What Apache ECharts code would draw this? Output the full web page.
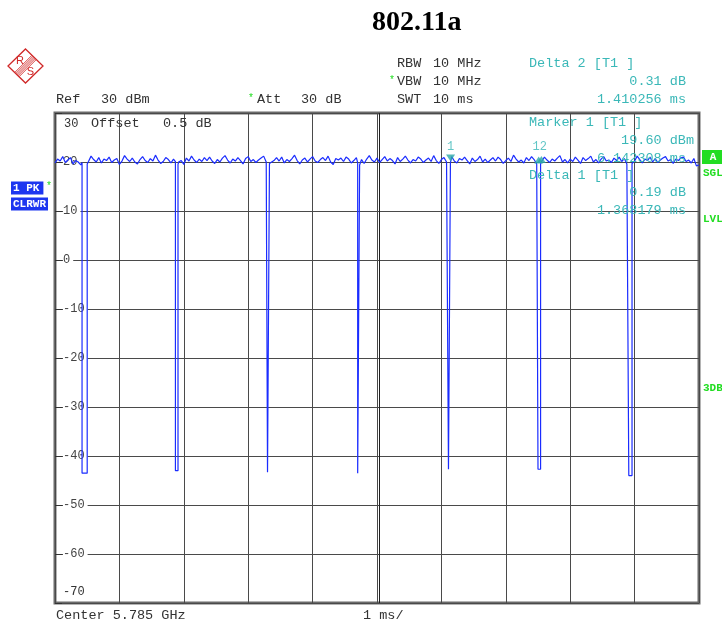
<!DOCTYPE html>
<html>
<head>
<meta charset="utf-8">
<script src="https://cdn.jsdelivr.net/npm/echarts/dist/echarts.min.js"></script>
<style>html,body{margin:0;padding:0;background:#fff;}#c{width:722px;height:626px;}</style>
</head>
<body>
<div id="c"></div>
<script>
// ---- data ----
const sweepMs = 10;            // SWT 10 ms, 1 ms/div
const noiseStep = 0.04;        // ms between noise samples
const noise = [
19.8,20.6,20.2,21.1,19.9,20.4,20.9,19.6,20.3,20.0,
19.4,19.7,20.8,20.1,21.2,20.5,20.0,20.9,19.8,20.6,
20.3,21.0,19.9,20.4,20.7,19.5,20.2,21.3,20.6,20.1,
20.8,20.0,19.6,20.5,21.1,20.3,19.9,20.7,20.2,21.4,
20.4,19.7,20.1,20.9,20.5,19.8,20.6,21.0,20.0,20.3,
19.5,20.8,20.2,21.2,20.4,19.9,20.6,20.1,20.9,20.3,
21.0,20.2,19.7,20.5,20.0,20.8,21.3,20.4,19.8,20.6,
20.2,20.9,20.3,19.6,20.7,21.1,20.1,20.5,19.9,20.4,
20.8,21.2,20.0,20.6,19.7,20.3,20.9,20.2,21.0,19.8,
20.5,20.1,20.7,21.4,20.3,19.6,20.4,20.8,20.0,20.6,
21.1,20.2,19.9,20.5,20.9,20.3,21.2,20.0,19.5,20.7,
20.4,20.8,20.1,21.0,20.6,19.8,20.3,20.9,20.2,20.5,
19.7,20.6,21.3,20.4,20.0,20.8,19.9,20.5,21.1,20.2,
20.7,20.3,19.6,20.9,20.1,20.6,21.2,20.4,19.8,20.5,
20.2,21.0,20.6,19.9,20.4,20.8,20.1,21.3,20.3,19.7,
20.5,20.9,20.0,20.6,21.1,20.2,19.8,20.7,20.4,21.0,
20.3,19.6,20.8,20.1,20.5,21.2,20.0,20.6,19.9,20.4,
20.9,20.2,21.0,20.5,19.7,20.3,20.8,20.1,21.4,20.6,
20.0,20.4,19.8,20.9,20.3,21.1,20.5,19.6,20.7,20.2,
21.0,20.4,19.9,20.6,20.2,20.8,21.3,20.0,20.5,19.8,
20.6,20.1,21.0,20.4,19.7,20.9,20.3,20.7,21.2,20.0,
20.5,19.8,20.6,21.1,20.2,20.4,19.9,20.8,20.3,21.0,
20.1,20.7,19.6,20.4,20.9,20.2,21.2,20.5,19.8,20.6,
20.3,21.0,20.0,20.7,19.9,20.4,20.8,21.1,20.2,20.5,
19.7,20.6,20.3,20.9,21.0,20.1,20.4,19.8,20.7,19.2,
19.4
];
const dipStart = [0.42, 1.87, 3.30, 4.70, 6.11, 7.50, 8.91];
const dipEnd   = [0.50, 1.91, 3.33, 4.73, 6.14, 7.54, 8.96];
const dipFloor = [-43.5, -43.0, -43.3, -43.5, -42.7, -42.7, -44.0];
const dipTopL  = [19.9, 20.1, 20.0, 19.8, 20.2, 19.9, 20.0];
const dipTopR  = [19.6, 19.5, 19.7, 19.4, 19.8, 19.6, 19.7];

const marker1 = [6.142308, 19.60];
const delta1 = [6.142308 + 1.368179, 19.60 + 0.19];
const delta2 = [6.142308 + 1.410256, 19.60 + 0.31];

const yTicks = [-70, -60, -50, -40, -30, -20, -10, 0, 10, 20, 30];

// ---- build trace ----
let trace = noise.map((v, i) => [+(i * noiseStep).toFixed(3), v])
  .filter(p => !dipStart.some((s, k) => p[0] > s - 0.001 && p[0] < dipEnd[k] + 0.001));
dipStart.forEach((s, k) => {
  trace.push([s, dipTopL[k]]); trace.push([s, dipFloor[k]]);
  trace.push([dipEnd[k], dipFloor[k]]); trace.push([dipEnd[k], dipTopR[k]]);
});
trace.sort((a, b) => a[0] - b[0]);

const mono = "'Liberation Mono', 'DejaVu Sans Mono', monospace";
const teal = '#3bb8b8';
const gray = '#333';
const green = '#22dd22';
const red = '#d02828';

function t(text, x, y, opt) {
  opt = opt || {};
  return {
    type: 'text', x: x, y: y, z: 100,
    style: Object.assign({
      text: text, font: '13.5px ' + mono, fill: gray,
      align: 'left', verticalAlign: 'middle'
    }, opt)
  };
}

const hatch = [-3, -1.5, 0, 1.5, 3].map(o => ({
  type: 'line',
  shape: {x1: 34 + o * 0.707, y1: 57.5 + o * 0.707, x2: 17 + o * 0.707, y2: 74.5 + o * 0.707},
  style: {stroke: red, lineWidth: 0.9}
}));

const graphics = [
  // title
  t('802.11a', 372, 23, {font: 'bold 28px "Liberation Serif", serif', fill: '#000'}),
  // R&S logo
  {type: 'polygon', shape: {points: [[25.5, 49], [43, 66], [25.5, 83], [8, 66]]}, style: {fill: 'none', stroke: red, lineWidth: 1.3}},
  ...hatch,
  t('R', 20, 61, {font: '11px "Liberation Sans", sans-serif', fill: red, align: 'center'}),
  t('S', 30.5, 72, {font: '11px "Liberation Sans", sans-serif', fill: red, align: 'center'}),
  // header
  t('RBW', 397, 63), t('10 MHz', 433, 63),
  t('*', 389, 80, {fill: green, font: '10px ' + mono}), t('VBW', 397, 81), t('10 MHz', 433, 81),
  t('SWT', 397, 99), t('10 ms', 433, 99),
  t('Ref', 56, 99), t('30 dBm', 101, 99),
  t('*', 248, 98, {fill: green, font: '10px ' + mono}), t('Att', 257, 99), t('30 dB', 301, 99),
  t('Delta 2 [T1 ]', 529, 63, {fill: teal}),
  t('0.31 dB', 686, 81, {fill: teal, align: 'right'}),
  t('1.410256 ms', 686, 99, {fill: teal, align: 'right'}),
  // in-plot texts
  t('30', 64, 124, {font: '12px ' + mono}),
  t('-70', 63, 592, {font: '12px ' + mono}),
  t('Offset', 91, 123), t('0.5 dB', 163, 123),
  t('Marker 1 [T1 ]', 529, 122, {fill: teal}),
  t('19.60 dBm', 694, 140, {fill: teal, align: 'right'}),
  t('6.142308 ms', 686, 158, {fill: teal, align: 'right'}),
  t('Delta 1 [T1 ]', 529, 175, {fill: teal}),
  t('0.19 dB', 686, 192, {fill: teal, align: 'right'}),
  t('1.368179 ms', 686, 210, {fill: teal, align: 'right'}),
  // left boxes
  t('1 PK', 11, 188, {font: 'bold 11px ' + mono, fill: '#fff', backgroundColor: '#1d36f0', padding: [1, 4, 1, 2]}),
  t('*', 46, 186, {fill: green, font: '10px ' + mono}),
  t('CLRWR', 11, 204, {font: 'bold 11px ' + mono, fill: '#fff', backgroundColor: '#1d36f0', padding: [1, 2, 1, 2]}),
  // right side
  {type: 'rect', shape: {x: 702, y: 150, width: 22, height: 14}, style: {fill: '#22dd22'}},
  t('A', 713, 157, {font: 'bold 11px ' + mono, fill: '#fff', align: 'center'}),
  t('SGL', 703, 173, {font: 'bold 11px ' + mono, fill: green}),
  t('LVL', 703, 219, {font: 'bold 11px ' + mono, fill: green}),
  t('3DB', 703, 388, {font: 'bold 11px ' + mono, fill: green}),
  // bottom
  t('Center 5.785 GHz', 56, 615), t('1 ms/', 363, 615)
];

const chart = echarts.init(document.getElementById('c'), null, {renderer: 'canvas'});
chart.setOption({
  animation: false,
  backgroundColor: '#fff',
  grid: {left: 55, right: 23, top: 113, bottom: 23, show: true, borderColor: '#6a6a6a', borderWidth: 3, backgroundColor: 'transparent'},
  xAxis: {
    type: 'value', min: 0, max: sweepMs, interval: 1,
    axisLine: {show: false}, axisTick: {show: false}, axisLabel: {show: false},
    splitLine: {show: true, lineStyle: {color: '#4a4a4a', width: 1}}
  },
  yAxis: {
    type: 'value', min: yTicks[0], max: yTicks[yTicks.length - 1], interval: 10,
    axisLine: {show: false},
    axisTick: {show: true, inside: true, length: 7, lineStyle: {color: '#333'}},
    axisLabel: {
      show: true, inside: true, margin: 8, color: '#444', fontFamily: mono, fontSize: 12,
      backgroundColor: '#fff', padding: [0, 3, 0, 0],
      formatter: v => (v === yTicks[0] || v === yTicks[yTicks.length - 1]) ? '' : String(v)
    },
    splitLine: {show: true, lineStyle: {color: '#4a4a4a', width: 1}}
  },
  series: [
    {
      type: 'line', data: trace, showSymbol: false, symbol: 'none',
      lineStyle: {color: '#1a2cff', width: 1.2}, z: 5,
      markLine: {
        silent: true, symbol: 'none', label: {show: false},
        lineStyle: {color: '#222', width: 1, type: 'solid'},
        data: [{xAxis: 5.03}]
      }
    },
    {
      type: 'scatter', z: 6,
      data: [marker1], symbol: 'triangle', symbolRotate: 180, symbolSize: [9, 7], symbolOffset: [0, -6],
      itemStyle: {color: '#2aa8a8'},
      label: {show: true, position: 'top', distance: 2, formatter: '1', color: teal, fontFamily: mono, fontSize: 12}
    },
    {
      type: 'scatter', z: 6,
      data: [
        {value: delta1, label: {show: true, formatter: '12'}},
        {value: delta2, label: {show: false}}
      ],
      symbol: 'triangle', symbolSize: [9, 7], symbolOffset: [0, -3],
      itemStyle: {color: '#2aa8a8'},
      label: {position: 'top', distance: 4, color: teal, fontFamily: mono, fontSize: 12, offset: [1, 0]}
    }
  ],
  graphic: graphics
});
</script>
</body>
</html>
